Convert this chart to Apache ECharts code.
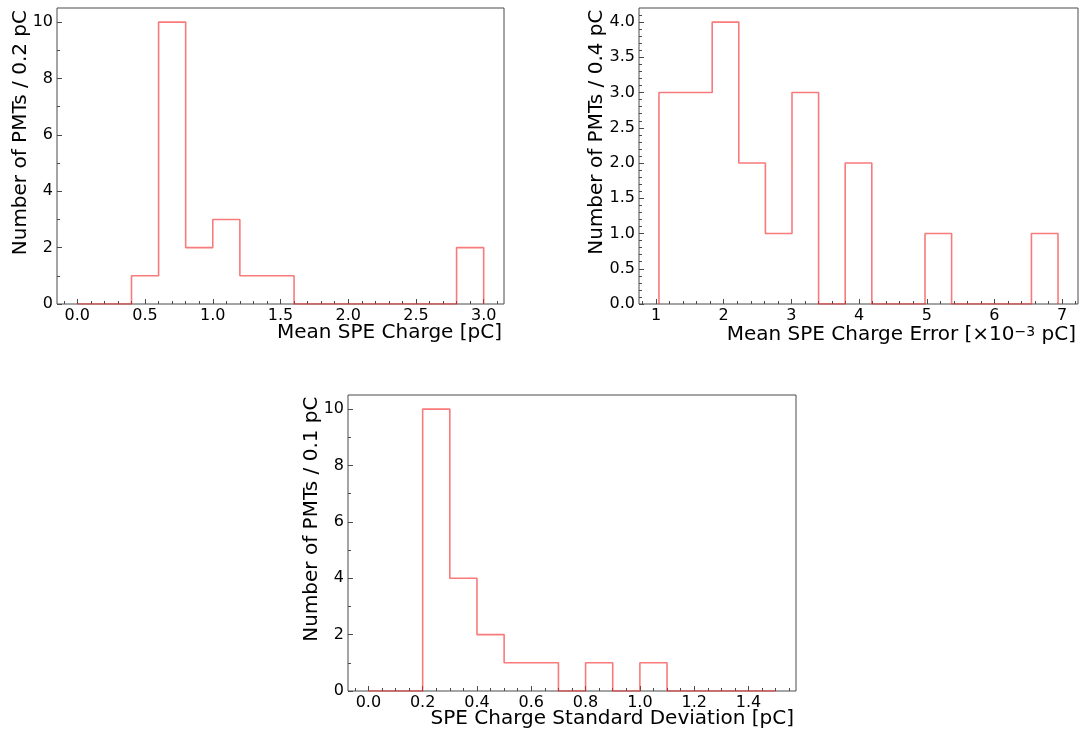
<!DOCTYPE html>
<html>
<head>
<meta charset="utf-8">
<script src="https://cdn.jsdelivr.net/npm/echarts@6/dist/echarts.min.js"></script>
<style>
html,body{margin:0;padding:0;background:#fff;}
#chart{width:1092px;height:731px;}
</style>
</head>
<body>
<div id="chart"></div>
<script>
// ---------- data ----------
// Panel 1: Mean SPE Charge [pC], bins of 0.2 pC
const edges1 = [0.0, 0.2, 0.4, 0.6, 0.8, 1.0, 1.2, 1.4, 1.6, 1.8, 2.0, 2.2, 2.4, 2.6, 2.8, 3.0];
const counts1 = [0, 0, 1, 10, 2, 3, 1, 1, 0, 0, 0, 0, 0, 0, 2];
// Panel 2: Mean SPE Charge Error [x10^-3 pC]
const edges2 = [1.044, 1.437, 1.830, 2.223, 2.616, 3.009, 3.402, 3.795, 4.188, 4.581, 4.974, 5.367, 5.760, 6.153, 6.546, 6.939];
const counts2 = [3, 3, 4, 2, 1, 3, 0, 2, 0, 0, 1, 0, 0, 0, 1];
// Panel 3: SPE Charge Standard Deviation [pC], bins of 0.1 pC
const edges3 = [0.0, 0.1, 0.2, 0.3, 0.4, 0.5, 0.6, 0.7, 0.8, 0.9, 1.0, 1.1, 1.2, 1.3, 1.4, 1.5];
const counts3 = [0, 0, 10, 4, 2, 1, 1, 0, 1, 0, 1, 0, 0, 0, 0];

// tick values
const xMajor1 = [0.0, 0.5, 1.0, 1.5, 2.0, 2.5, 3.0];
const xMinor1 = [-0.1, 0.1, 0.2, 0.3, 0.4, 0.6, 0.7, 0.8, 0.9, 1.1, 1.2, 1.3, 1.4, 1.6, 1.7, 1.8, 1.9, 2.1, 2.2, 2.3, 2.4, 2.6, 2.7, 2.8, 2.9, 3.1];
const yMajor1 = [0, 2, 4, 6, 8, 10];
const yMinor1 = [1, 3, 5, 7, 9];

const xMajor2 = [1, 2, 3, 4, 5, 6, 7];
const xMinor2 = [0.8, 1.2, 1.4, 1.6, 1.8, 2.2, 2.4, 2.6, 2.8, 3.2, 3.4, 3.6, 3.8, 4.2, 4.4, 4.6, 4.8, 5.2, 5.4, 5.6, 5.8, 6.2, 6.4, 6.6, 6.8, 7.2];
const yMajor2 = [0.0, 0.5, 1.0, 1.5, 2.0, 2.5, 3.0, 3.5, 4.0];
const yMinor2 = [0.1, 0.2, 0.3, 0.4, 0.6, 0.7, 0.8, 0.9, 1.1, 1.2, 1.3, 1.4, 1.6, 1.7, 1.8, 1.9, 2.1, 2.2, 2.3, 2.4, 2.6, 2.7, 2.8, 2.9, 3.1, 3.2, 3.3, 3.4, 3.6, 3.7, 3.8, 3.9, 4.1];

const xMajor3 = [0.0, 0.2, 0.4, 0.6, 0.8, 1.0, 1.2, 1.4];
const xMinor3 = [-0.05, 0.05, 0.1, 0.15, 0.25, 0.3, 0.35, 0.45, 0.5, 0.55, 0.65, 0.7, 0.75, 0.85, 0.9, 0.95, 1.05, 1.1, 1.15, 1.25, 1.3, 1.35, 1.45, 1.5, 1.55];
const yMajor3 = [0, 2, 4, 6, 8, 10];
const yMinor3 = [1, 3, 5, 7, 9];

const xTitles = ['{n|Mean SPE Charge [pC]}', '{n|Mean SPE Charge Error [\u00d710}{s|\u22123}{n| pC]}', '{n|SPE Charge Standard Deviation [pC]}'];
const yTitles = ['Number of PMTs / 0.2 pC', 'Number of PMTs / 0.4 pC', 'Number of PMTs / 0.1 pC'];

// ---------- layout / style ----------
const FONT = 'DejaVu Sans';
const LINE = 'rgba(245,40,40,0.62)';
const AX = '#4a4a4a';

const panels = [
  {edges: edges1, counts: counts1, grid: {left: 57, top: 8, width: 447, height: 296},
   xr: [-0.15, 3.15], yr: [0, 10.5], xMaj: xMajor1, xMin: xMinor1, yMaj: yMajor1, yMin: yMinor1,
   xf: v => v.toFixed(1), yf: v => v.toFixed(0)},
  {edges: edges2, counts: counts2, grid: {left: 639, top: 8, width: 439, height: 296},
   xr: [0.749, 7.234], yr: [0, 4.2], xMaj: xMajor2, xMin: xMinor2, yMaj: yMajor2, yMin: yMinor2,
   xf: v => v.toFixed(0), yf: v => v.toFixed(1)},
  {edges: edges3, counts: counts3, grid: {left: 348, top: 395, width: 448, height: 296},
   xr: [-0.075, 1.575], yr: [0, 10.5], xMaj: xMajor3, xMin: xMinor3, yMaj: yMajor3, yMin: yMinor3,
   xf: v => v.toFixed(1), yf: v => v.toFixed(0)}
];

function stepPoints(edges, counts) {
  const pts = [[edges[0], 0]];
  for (let i = 0; i < counts.length; i++) pts.push([edges[i], counts[i]]);
  pts.push([edges[edges.length - 1], counts[counts.length - 1]]);
  pts.push([edges[edges.length - 1], 0]);
  return pts;
}

const grid = [], xAxis = [], yAxis = [], series = [];
const tickLine = {color: AX, width: 1};
const labelStyle = {color: '#000', fontFamily: FONT, fontSize: 16, margin: 4};
panels.forEach((p, i) => {
  grid.push(Object.assign({show: true, borderColor: AX, borderWidth: 1, backgroundColor: 'transparent', containLabel: false}, p.grid));
  const xi = xAxis.length, yi = yAxis.length;
  xAxis.push({gridIndex: i, type: 'value', position: 'bottom', min: p.xr[0], max: p.xr[1],
    axisLine: {show: false, onZero: false}, splitLine: {show: false},
    axisTick: {show: true, inside: true, length: 5, customValues: p.xMaj, lineStyle: tickLine},
    axisLabel: Object.assign({show: true, customValues: p.xMaj, formatter: p.xf}, labelStyle)
  });
  xAxis.push({gridIndex: i, type: 'value', position: 'bottom', min: p.xr[0], max: p.xr[1],
    axisLine: {show: false, onZero: false}, splitLine: {show: false}, axisLabel: {show: false},
    axisTick: {show: true, inside: true, length: 3, customValues: p.xMin, lineStyle: tickLine}
  });
  yAxis.push({gridIndex: i, type: 'value', position: 'left', min: p.yr[0], max: p.yr[1],
    axisLine: {show: false, onZero: false}, splitLine: {show: false},
    axisTick: {show: true, inside: true, length: 5, customValues: p.yMaj, lineStyle: tickLine},
    axisLabel: Object.assign({show: true, customValues: p.yMaj, formatter: p.yf}, labelStyle)
  });
  yAxis.push({gridIndex: i, type: 'value', position: 'left', min: p.yr[0], max: p.yr[1],
    axisLine: {show: false, onZero: false}, splitLine: {show: false}, axisLabel: {show: false},
    axisTick: {show: true, inside: true, length: 3, customValues: p.yMin, lineStyle: tickLine}
  });
  series.push({type: 'line', xAxisIndex: xi, yAxisIndex: yi, step: 'end', symbol: 'none', showSymbol: false,
    lineStyle: {color: LINE, width: 1.6}, data: stepPoints(p.edges, p.counts), animation: false, z: 5});
});

// axis titles (matplotlib-style: x label right-aligned, y label top-aligned)
const titlePos = [
  {xx: 502, xy: 333, yx: 20.5, yy: 10},
  {xx: 1076, xy: 335, yx: 597, yy: 9.5},
  {xx: 794, xy: 719, yx: 311.5, yy: 396.5}
];
const rich = {
  n: {fontSize: 20, fontFamily: FONT, fill: '#000', color: '#000'},
  s: {fontSize: 14, fontFamily: FONT, fill: '#000', color: '#000', verticalAlign: 'top', padding: [0, 0, 6, 0]}
};
const graphic = [];
titlePos.forEach((t, i) => {
  graphic.push({type: 'text', x: t.xx, y: t.xy, style: {text: xTitles[i], rich: rich, font: '20px "DejaVu Sans"', fill: '#000',
    align: 'right', verticalAlign: 'middle', textAlign: 'right', textVerticalAlign: 'middle'}});
  graphic.push({type: 'text', x: t.yx, y: t.yy, rotation: Math.PI / 2, style: {text: yTitles[i], font: '20px "DejaVu Sans"', fill: '#000',
    align: 'right', verticalAlign: 'middle', textAlign: 'right', textVerticalAlign: 'middle'}});
});

const chart = echarts.init(document.getElementById('chart'), null, {renderer: 'canvas'});
chart.setOption({animation: false, backgroundColor: '#fff', grid, xAxis, yAxis, series, graphic});
</script>
</body>
</html>
